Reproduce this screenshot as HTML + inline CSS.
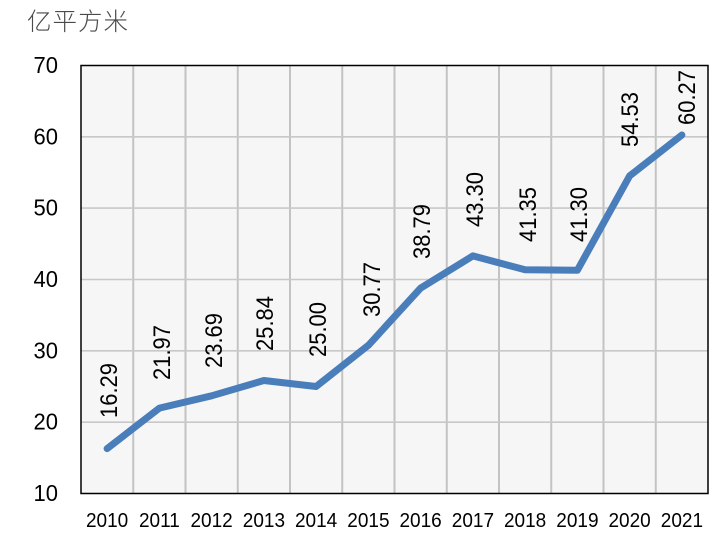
<!DOCTYPE html>
<html>
<head>
<meta charset="utf-8">
<style>
  html,body{margin:0;padding:0;background:#ffffff;}
  svg{display:block;}
  .t{font-family:"Liberation Sans","Noto Sans CJK SC",sans-serif;fill:#000;}
</style>
</head>
<body>
<svg width="723" height="546" viewBox="0 0 723 546" xmlns="http://www.w3.org/2000/svg">
  <rect x="0" y="0" width="723" height="546" fill="#ffffff"/>
  <!-- title -->
  <text x="27" y="30" font-family="'Noto Sans CJK SC','WenQuanYi Zen Hei',sans-serif" font-size="24.5" font-weight="300" fill="#4a4a4a" letter-spacing="1">亿平方米</text>

  <!-- plot background -->
  <rect x="81" y="65.5" width="627" height="428" fill="#f6f6f6"/>

  <!-- vertical grid lines -->
  <g stroke="#c3c3c3" stroke-width="2">
    <line x1="133.25" y1="65.5" x2="133.25" y2="493.5"/>
    <line x1="185.5" y1="65.5" x2="185.5" y2="493.5"/>
    <line x1="237.75" y1="65.5" x2="237.75" y2="493.5"/>
    <line x1="290" y1="65.5" x2="290" y2="493.5"/>
    <line x1="342.25" y1="65.5" x2="342.25" y2="493.5"/>
    <line x1="394.5" y1="65.5" x2="394.5" y2="493.5"/>
    <line x1="446.75" y1="65.5" x2="446.75" y2="493.5"/>
    <line x1="499" y1="65.5" x2="499" y2="493.5"/>
    <line x1="551.25" y1="65.5" x2="551.25" y2="493.5"/>
    <line x1="603.5" y1="65.5" x2="603.5" y2="493.5"/>
    <line x1="655.75" y1="65.5" x2="655.75" y2="493.5"/>
  </g>
  <!-- horizontal grid lines -->
  <g stroke="#c8c8c8" stroke-width="1.6">
    <line x1="81" y1="136.8" x2="708" y2="136.8"/>
    <line x1="81" y1="208.1" x2="708" y2="208.1"/>
    <line x1="81" y1="279.5" x2="708" y2="279.5"/>
    <line x1="81" y1="350.8" x2="708" y2="350.8"/>
    <line x1="81" y1="422.2" x2="708" y2="422.2"/>
  </g>

  <!-- plot border -->
  <rect x="81" y="65.5" width="627" height="428" fill="none" stroke="#000" stroke-width="1.5"/>

  <!-- y axis labels -->
  <g class="t" font-size="22" text-anchor="end">
    <text transform="translate(58,73) scale(1,1.05)">70</text>
    <text transform="translate(58,144.3) scale(1,1.05)">60</text>
    <text transform="translate(58,215.6) scale(1,1.05)">50</text>
    <text transform="translate(58,287) scale(1,1.05)">40</text>
    <text transform="translate(58,358.3) scale(1,1.05)">30</text>
    <text transform="translate(58,429.7) scale(1,1.05)">20</text>
    <text transform="translate(58,501) scale(1,1.05)">10</text>
  </g>

  <!-- x axis labels -->
  <g class="t" font-size="19" text-anchor="middle">
    <text transform="translate(107.1,527) scale(1,1.08)">2010</text>
    <text transform="translate(159.4,527) scale(1,1.08)">2011</text>
    <text transform="translate(211.6,527) scale(1,1.08)">2012</text>
    <text transform="translate(263.9,527) scale(1,1.08)">2013</text>
    <text transform="translate(316.1,527) scale(1,1.08)">2014</text>
    <text transform="translate(368.4,527) scale(1,1.08)">2015</text>
    <text transform="translate(420.6,527) scale(1,1.08)">2016</text>
    <text transform="translate(472.9,527) scale(1,1.08)">2017</text>
    <text transform="translate(525.1,527) scale(1,1.08)">2018</text>
    <text transform="translate(577.4,527) scale(1,1.08)">2019</text>
    <text transform="translate(629.6,527) scale(1,1.08)">2020</text>
    <text transform="translate(681.9,527) scale(1,1.08)">2021</text>
  </g>

  <!-- data line -->
  <polyline fill="none" stroke="#4a7ebb" stroke-width="7" stroke-linejoin="round" stroke-linecap="round"
    points="107.1,448.6 159.4,408.1 211.6,395.8 263.9,380.5 316.1,386.5 368.4,345.3 420.6,288.1 472.9,255.9 525.1,269.8 577.4,270.2 629.6,175.9 681.9,135.0"/>

  <!-- data labels -->
  <g class="t" font-size="22">
    <text transform="translate(117,418) rotate(-90) scale(1,1.1)">16.29</text>
    <text transform="translate(170,380) rotate(-90) scale(1,1.1)">21.97</text>
    <text transform="translate(222,368) rotate(-90) scale(1,1.1)">23.69</text>
    <text transform="translate(273,351) rotate(-90) scale(1,1.1)">25.84</text>
    <text transform="translate(326,357) rotate(-90) scale(1,1.1)">25.00</text>
    <text transform="translate(380,317) rotate(-90) scale(1,1.1)">30.77</text>
    <text transform="translate(430,259) rotate(-90) scale(1,1.1)">38.79</text>
    <text transform="translate(483,227) rotate(-90) scale(1,1.1)">43.30</text>
    <text transform="translate(536,242) rotate(-90) scale(1,1.1)">41.35</text>
    <text transform="translate(587,242) rotate(-90) scale(1,1.1)">41.30</text>
    <text transform="translate(638,147) rotate(-90) scale(1,1.1)">54.53</text>
    <text transform="translate(695,125) rotate(-90) scale(1,1.1)">60.27</text>
  </g>
</svg>
</body>
</html>
